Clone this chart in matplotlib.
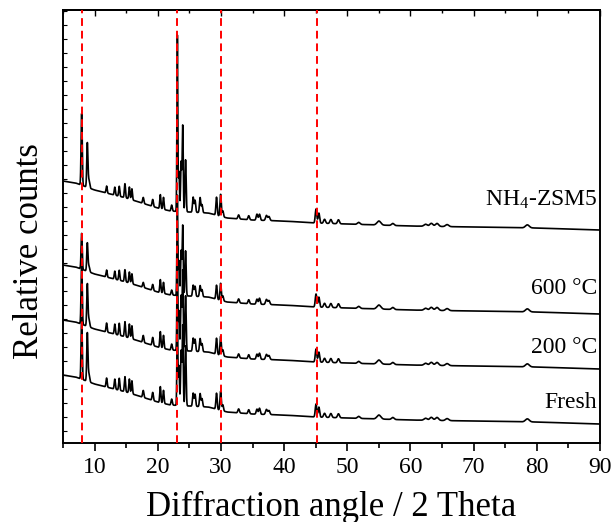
import numpy as np
import matplotlib
matplotlib.use("Agg")
import matplotlib.pyplot as plt
from matplotlib.ticker import MultipleLocator

plt.rcParams['font.family'] = ['Liberation Serif', 'DejaVu Serif']
plt.rcParams['mathtext.fontset'] = 'custom'
plt.rcParams['mathtext.rm'] = 'Liberation Serif'
plt.rcParams['mathtext.default'] = 'regular'

# baseline of the fresh sample, other traces are shifted up
base_x = [5, 7, 10, 15, 20, 22, 25, 28, 31, 35, 40, 45, 50, 60, 70, 80, 90]
base_y = [68, 66, 59, 51, 41, 38, 37, 36, 31, 29, 28, 26, 25, 23, 22, 21, 19]

samples = ['Fresh', '200 °C', '600 °C', 'NH$_4$-ZSM5']
offsets = [0, 55, 110, 194]
label_y = [41, 96, 155, 243]

# MFI reflections: position (2 theta), width (sigma), height per sample
peak_pos = [7.95, 8.85, 9.1, 11.9, 13.2, 13.9, 14.8, 15.5, 15.9, 17.7, 19.2,
            20.4, 20.9, 22.2, 23.1, 23.35, 23.7, 23.95, 24.4, 25.6, 25.9,
            26.7, 27.0, 29.3, 29.95, 30.3, 32.8, 34.4, 35.7, 36.1, 37.2, 37.6,
            45.05, 45.5, 46.4, 47.4, 48.6, 51.8, 55.0, 57.2, 62.4, 63.3,
            64.2, 65.8, 78.5]
peak_w = [0.09, 0.09, 0.12, 0.09, 0.09, 0.09, 0.09, 0.09, 0.09, 0.1, 0.1,
          0.09, 0.09, 0.1, 0.07, 0.08, 0.09, 0.08, 0.09, 0.1, 0.1,
          0.1, 0.1, 0.1, 0.1, 0.1, 0.12, 0.12, 0.12, 0.12, 0.14, 0.14,
          0.12, 0.12, 0.15, 0.15, 0.15, 0.2, 0.3, 0.2, 0.25, 0.25,
          0.25, 0.25, 0.3]
h_fresh = [62, 48, 8, 9, 10, 12, 15, 14, 13, 7, 8, 16, 13, 6, 100, 40, 55, 80,
           60, 13, 12, 13, 8, 16, 19, 6, 4, 4, 5, 6, 5, 4,
           13, 10, 4, 4, 4, 2, 4, 2, 2, 3, 3, 2, 3]
h_200 = [62, 42, 8, 9, 10, 12, 15, 14, 13, 7, 8, 16, 13, 6, 105, 40, 55, 80,
         55, 13, 12, 13, 8, 16, 19, 6, 4, 4, 5, 6, 5, 4,
         13, 10, 4, 4, 4, 2, 4, 2, 2, 3, 3, 2, 3]
h_600 = [36, 28, 6, 7, 8, 10, 12, 11, 10, 5, 6, 13, 11, 5, 100, 35, 45, 70,
         45, 11, 10, 11, 7, 14, 17, 5, 4, 4, 5, 6, 5, 4,
         13, 10, 4, 4, 4, 2, 4, 2, 2, 3, 3, 2, 3]
h_nh4 = [72, 44, 8, 7, 8, 10, 14, 12, 11, 6, 7, 14, 12, 6, 176, 40, 50, 86,
         52, 15, 12, 15, 8, 18, 22, 6, 4, 4, 6, 6, 5, 4,
         14, 10, 4, 4, 4, 2, 4, 2, 2, 3, 3, 2, 3]
heights = [h_fresh, h_200, h_600, h_nh4]

ref_lines = [8, 23, 30, 45.2]


def pattern(x, h):
    y = np.interp(x, base_x, base_y)
    for p, w, a in zip(peak_pos, peak_w, h):
        y = y + a * np.exp(-0.5 * ((x - p) / w) ** 2)
    return y


fig = plt.figure(figsize=(6.13, 5.22), dpi=100)
ax = fig.add_axes([0.1028, 0.1513, 0.876, 0.8295])

x = np.arange(5, 90.001, 0.02)
for name, off, h, ly in zip(samples, offsets, heights, label_y):
    y = pattern(x, h) + off
    ax.plot(x, y, color='black', lw=1.2)
    ax.text(89.6, ly, name, ha='right', va='center', fontsize=17)

for xv in ref_lines:
    ax.axvline(xv, color='red', ls=(0, (4, 2.5)), lw=1.4, zorder=3)

ax.set_xlim(5, 90)
ax.set_ylim(0, 433)
ax.xaxis.set_major_locator(MultipleLocator(10))
ax.xaxis.set_minor_locator(MultipleLocator(5))
ax.tick_params(axis='x', which='major', direction='out', length=6, width=1.2,
               labelsize=17, pad=4)
ax.tick_params(axis='x', which='minor', direction='out', length=3.5, width=1.2)

# top axis: inward ticks, no labels
top = ax.secondary_xaxis('top')
top.xaxis.set_major_locator(MultipleLocator(10))
top.xaxis.set_minor_locator(MultipleLocator(5))
top.tick_params(which='major', direction='in', length=4, width=1.0, labeltop=False)
top.tick_params(which='minor', direction='in', length=2.5, width=1.0)
top.spines['top'].set_linewidth(1.4)

ax.set_yticks(np.arange(12, 433, 14))
ax.set_yticklabels([])
ax.tick_params(axis='y', direction='in', length=3, width=0.8)
for sp in ax.spines.values():
    sp.set_linewidth(1.4)

ax.set_xlabel('Diffraction angle / 2 Theta', fontsize=25, labelpad=9)
ax.set_ylabel('Relative counts', fontsize=25)
ax.yaxis.set_label_coords(-0.032, 0.443)

fig.savefig('out.png', dpi=100)
